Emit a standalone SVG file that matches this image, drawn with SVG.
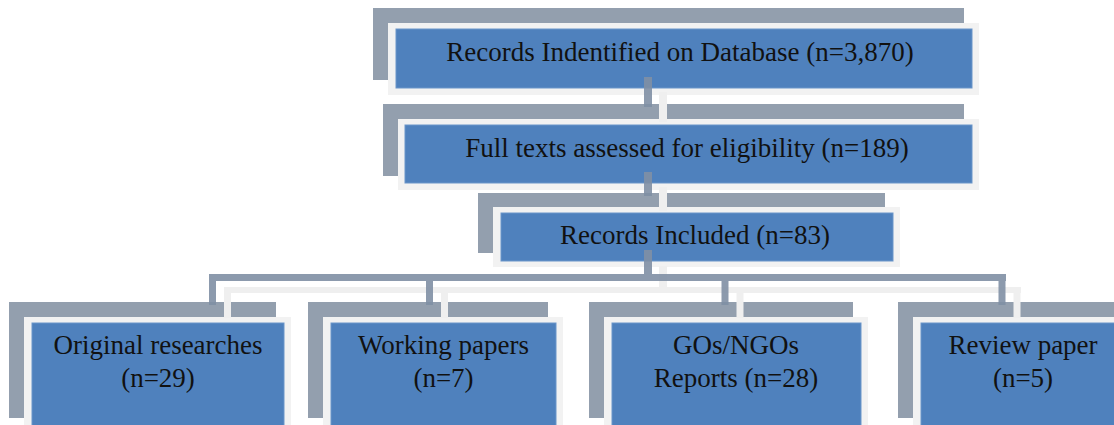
<svg xmlns="http://www.w3.org/2000/svg" width="1114" height="425" viewBox="0 0 1114 425">
  <style>
    .shadow { fill: #939fae; }
    .frame { fill: #f2f2f2; }
    .blue { fill: #4f81bd; stroke: #6a95c9; stroke-width: 1; }
    .lbl { font-family: "Liberation Serif", "Times New Roman", serif; font-size: 27px; fill: #111111; text-anchor: middle; }
    .cdark { stroke: #7f8fa4; stroke-opacity: 0.9; fill: none; }
    .clight { stroke: #efefef; fill: none; }
  </style>
  <rect width="1114" height="425" fill="#ffffff"/>

  <g id="node-records-identified">
    <rect class="shadow" x="373" y="8" width="591" height="72"/>
    <rect class="frame" x="388" y="23" width="591" height="72"/>
    <rect class="blue" x="396" y="29" width="576" height="59"/>
    <text class="lbl" x="680" y="61">Records Indentified on Database (n=3,870)</text>
  </g>

  <g id="node-full-texts">
    <rect class="shadow" x="383" y="104" width="581" height="72"/>
    <rect class="frame" x="398" y="119" width="581" height="71"/>
    <rect class="blue" x="405" y="125" width="567" height="58"/>
    <text class="lbl" x="687" y="157">Full texts assessed for eligibility (n=189)</text>
  </g>

  <g id="node-records-included">
    <rect class="shadow" x="478" y="193" width="407" height="60"/>
    <rect class="frame" x="493" y="207" width="407" height="60"/>
    <rect class="blue" x="501" y="213" width="392" height="48"/>
    <text class="lbl" x="695" y="244">Records Included (n=83)</text>
  </g>

  <g id="node-original-researches">
    <rect class="shadow" x="9" y="302" width="267" height="116"/>
    <rect class="frame" x="24" y="317" width="267" height="116"/>
    <rect class="blue" x="32" y="323" width="252" height="110"/>
    <text class="lbl" x="158" y="354">Original researches</text>
    <text class="lbl" x="158" y="387">(n=29)</text>
  </g>

  <g id="node-working-papers">
    <rect class="shadow" x="308" y="302" width="240" height="116"/>
    <rect class="frame" x="323" y="317" width="240" height="116"/>
    <rect class="blue" x="331" y="323" width="225" height="110"/>
    <text class="lbl" x="443.5" y="354">Working papers</text>
    <text class="lbl" x="443.5" y="387">(n=7)</text>
  </g>

  <g id="node-gos-ngos">
    <rect class="shadow" x="589" y="302" width="264" height="116"/>
    <rect class="frame" x="604" y="317" width="264" height="116"/>
    <rect class="blue" x="612" y="323" width="249" height="110"/>
    <text class="lbl" x="736" y="354">GOs/NGOs</text>
    <text class="lbl" x="736" y="387">Reports (n=28)</text>
  </g>

  <g id="node-review-paper">
    <rect class="shadow" x="898" y="302" width="220" height="116"/>
    <rect class="frame" x="913" y="317" width="220" height="116"/>
    <rect class="blue" x="921" y="323" width="205" height="110"/>
    <text class="lbl" x="1023" y="354">Review paper</text>
    <text class="lbl" x="1023" y="387">(n=5)</text>
  </g>

  <g id="connectors">
    <g class="clight">
      <line x1="663" y1="92" x2="663" y2="122" stroke-width="8"/>
      <line x1="663" y1="187" x2="663" y2="211" stroke-width="8"/>
      <line x1="663" y1="266" x2="663" y2="291" stroke-width="8"/>
      <line x1="224" y1="290" x2="1021" y2="290" stroke-width="6"/>
      <line x1="227.5" y1="290" x2="227.5" y2="318" stroke-width="7"/>
      <line x1="444.5" y1="290" x2="444.5" y2="318" stroke-width="7"/>
      <line x1="740" y1="290" x2="740" y2="318" stroke-width="7"/>
      <line x1="1017" y1="290" x2="1017" y2="318" stroke-width="7"/>
    </g>
    <g class="cdark">
      <line x1="648" y1="77" x2="648" y2="107" stroke-width="8"/>
      <line x1="648" y1="172" x2="648" y2="196" stroke-width="8"/>
      <line x1="648" y1="250" x2="648" y2="274" stroke-width="8"/>
      <path d="M209 277.5 H1006" stroke-width="7"/>
      <line x1="212.5" y1="281" x2="212.5" y2="305" stroke-width="7"/>
      <line x1="429.5" y1="281" x2="429.5" y2="305" stroke-width="7"/>
      <line x1="725" y1="281" x2="725" y2="305" stroke-width="7"/>
      <line x1="1002" y1="281" x2="1002" y2="305" stroke-width="7"/>
    </g>
  </g>
</svg>
